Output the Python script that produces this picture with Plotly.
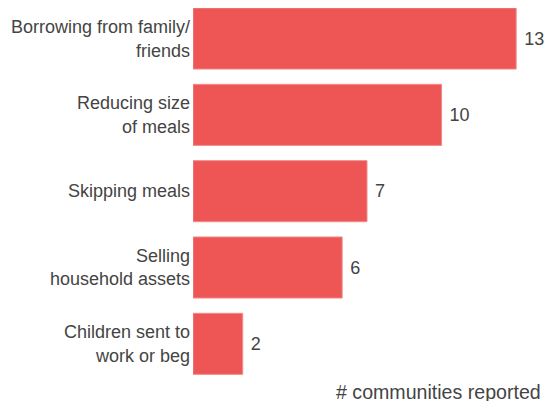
import plotly.graph_objects as go

categories = ["Borrowing from family/<br>friends", "Reducing size<br>of meals", "Skipping meals",
              "Selling<br>household assets", "Children sent to<br>work or beg"]
values = [13, 10, 7, 6, 2]

fig = go.Figure(go.Bar(
    x=values, y=categories, orientation="h",
    marker=dict(color="#EE5656", line=dict(color="#F28A8A", width=1)),
    text=[" " + str(v) for v in values], textposition="outside",
    textfont=dict(size=18, color="#444444"), cliponaxis=False,
    hoverinfo="skip",
))
fig.update_layout(
    width=544, height=401,
    margin=dict(l=193, r=0, t=8, b=19),
    paper_bgcolor="white", plot_bgcolor="white",
    font=dict(family="Liberation Sans, Arial, sans-serif", size=18, color="#444444"),
    bargap=0.2, showlegend=False,
    xaxis=dict(range=[0, 14.12], showgrid=False, zeroline=False, showticklabels=False, fixedrange=True),
    yaxis=dict(range=[4.5, -0.4], showgrid=False, zeroline=False, ticks="", ticklabelstandoff=2,
               tickfont=dict(size=18, color="#444444"), fixedrange=True),
    annotations=[dict(text="# communities reported", x=1, y=0, xref="paper", yref="paper",
                      xanchor="right", yanchor="top", yshift=3, xshift=-1, showarrow=False,
                      font=dict(size=19.6, color="#444444"))],
)
fig.write_html("out.html", config={"displayModeBar": False},
               post_script="document.body.style.margin='0';document.body.style.overflow='hidden';")
